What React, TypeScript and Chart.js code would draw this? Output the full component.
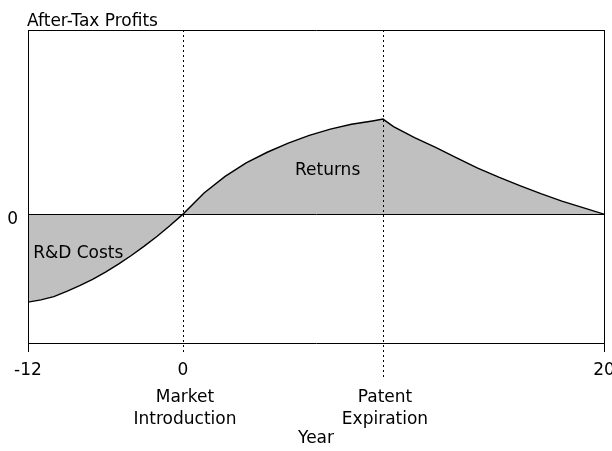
import React, { useEffect, useRef } from 'react';
import { Chart, LinearScale, registerables } from 'chart.js';

// ---- data ----
const YEARS = [-12, -11, -10, -9, -8, -7, -6, -5, -4, -3, -2, -1, 0, 1, 2, 3, 4, 5, 6, 7, 8, 9, 9.5, 10, 11, 12, 13, 14, 15, 16, 17, 18, 19, 20];
const PROFITS = [-47.8, -46.6, -44.8, -42, -38.9, -35.4, -31.5, -27.2, -22.5, -17.4, -12, -6.2, 0, 11.5, 20.5, 27.8, 33.6, 38.6, 42.8, 46.2, 48.8, 50.6, 51.6, 47.5, 41.5, 36.2, 30.6, 25, 20.1, 15.5, 11.1, 7.1, 3.5, 0];
const X_TICKS = [-12, 0, 20];
const Y_TICKS = [0];
const MARKET_INTRO_YEAR = 0;
const PATENT_EXPIRY_YEAR = 9.5;
const Y_MIN = -70;
const Y_MAX = 100;
const AXIS_BREAKS = [-12, 0, 20];
const AXIS_BREAK_FRACTIONS = [0, 0.2691, 1];
const REGION_LABELS = [
  { text: 'R&D Costs', year: -11.6, value: -23.8 },
  { text: 'Returns', year: 5.32, value: 21.2 },
];
const EVENT_LABELS = [
  { lines: ['Market', 'Introduction'], year: MARKET_INTRO_YEAR },
  { lines: ['Patent', 'Expiration'], year: PATENT_EXPIRY_YEAR },
];

const FAMILY = "'DejaVu Sans', sans-serif";
const FONT_SIZE = 17;

function yearToDecimal(v: number): number {
  const n = AXIS_BREAKS.length;
  for (let i = 0; i < n - 1; i++) {
    const a = AXIS_BREAKS[i];
    const b = AXIS_BREAKS[i + 1];
    if (v <= b || i === n - 2) {
      const fa = AXIS_BREAK_FRACTIONS[i];
      const fb = AXIS_BREAK_FRACTIONS[i + 1];
      return fa + ((v - a) / (b - a)) * (fb - fa);
    }
  }
  return 0;
}
function decimalToYear(d: number): number {
  const n = AXIS_BREAKS.length;
  for (let i = 0; i < n - 1; i++) {
    const fa = AXIS_BREAK_FRACTIONS[i];
    const fb = AXIS_BREAK_FRACTIONS[i + 1];
    if (d <= fb || i === n - 2) {
      const a = AXIS_BREAKS[i];
      const b = AXIS_BREAKS[i + 1];
      return a + ((d - fa) / (fb - fa)) * (b - a);
    }
  }
  return 0;
}

class PiecewiseScale extends LinearScale {
  static id = 'piecewise';
  getPixelForValue(value: any) {
    if (value === null || value === undefined || isNaN(value)) return NaN;
    return (this as any).getPixelForDecimal(yearToDecimal(+value));
  }
  getValueForPixel(pixel: number) {
    return decimalToYear((this as any).getDecimalForPixel(pixel));
  }
}

Chart.register(...registerables, PiecewiseScale as any);

const decorPlugin = {
  id: 'decor',
  afterDraw(chart: any) {
    const { ctx, chartArea } = chart;
    const xs = chart.scales.x;
    const ys = chart.scales.y;
    ctx.save();
    // top & right frame
    ctx.strokeStyle = '#000';
    ctx.lineWidth = 1;
    ctx.beginPath();
    ctx.moveTo(chartArea.left, Math.round(chartArea.top) + 0.5);
    ctx.lineTo(chartArea.right + 1, Math.round(chartArea.top) + 0.5);
    ctx.moveTo(Math.round(chartArea.right) + 0.5, chartArea.top);
    ctx.lineTo(Math.round(chartArea.right) + 0.5, chartArea.bottom);
    ctx.stroke();

    // dotted event lines
    ctx.setLineDash([2, 3]);
    const ends = [chartArea.bottom + 10, chartArea.bottom + 35];
    EVENT_LABELS.forEach((ev, i) => {
      const px = Math.round(xs.getPixelForValue(ev.year)) + 0.5;
      ctx.beginPath();
      ctx.moveTo(px, chartArea.top);
      ctx.lineTo(px, ends[i]);
      ctx.stroke();
    });
    ctx.setLineDash([]);

    // texts
    ctx.fillStyle = '#000';
    ctx.font = `${FONT_SIZE}px ${FAMILY}`;
    ctx.textBaseline = 'alphabetic';
    ctx.textAlign = 'left';
    ctx.fillText('After-Tax Profits', chartArea.left - 1, chartArea.top - 4);
    REGION_LABELS.forEach((l) => {
      ctx.fillText(l.text, xs.getPixelForValue(l.year), ys.getPixelForValue(l.value));
    });
    ctx.textAlign = 'center';
    EVENT_LABELS.forEach((ev) => {
      const px = xs.getPixelForValue(ev.year) + 2;
      ev.lines.forEach((line, j) => {
        ctx.fillText(line, px, chartArea.bottom + 59 + j * 22);
      });
    });
    ctx.restore();
  },
};

export default function App() {
  const ref = useRef<HTMLCanvasElement | null>(null);
  useEffect(() => {
    if (!ref.current) return;
    const chart = new Chart(ref.current, {
      type: 'line',
      data: {
        datasets: [
          {
            data: YEARS.map((y, i) => ({ x: y, y: PROFITS[i] })),
            borderColor: '#000',
            borderWidth: 1.4,
            backgroundColor: '#c0c0c0',
            fill: 'origin',
            pointRadius: 0,
            tension: 0,
          },
        ],
      },
      options: {
        animation: false,
        responsive: false,
        events: [],
        layout: { padding: { left: 0, right: 8, top: 30, bottom: 0 } },
        plugins: { legend: { display: false }, tooltip: { enabled: false } },
        scales: {
          x: {
            type: 'piecewise' as any,
            min: -12,
            max: 20,
            afterBuildTicks: (s: any) => {
              s.ticks = X_TICKS.map((v) => ({ value: v }));
            },
            afterFit: (s: any) => {
              s.height = 108;
              s.paddingLeft = 0;
              s.paddingRight = 0;
            },
            ticks: {
              autoSkip: false,
              maxRotation: 0,
              padding: 8,
              color: '#000',
              font: { family: FAMILY, size: FONT_SIZE },
              callback: (v: any) => String(v),
            },
            grid: {
              display: true,
              drawOnChartArea: false,
              drawTicks: true,
              tickLength: 9,
              color: (c: any) => (c.tick && (c.tick.value === -12 || c.tick.value === 20) ? '#000' : 'rgba(0,0,0,0)'),
            },
            border: { display: true, color: '#000', width: 1 },
            title: {
              display: true,
              text: 'Year',
              color: '#000',
              font: { family: FAMILY, size: FONT_SIZE },
              padding: { top: 0, bottom: 2 },
            },
          },
          y: {
            type: 'linear',
            min: Y_MIN,
            max: Y_MAX,
            afterBuildTicks: (s: any) => {
              s.ticks = Y_TICKS.map((v) => ({ value: v }));
            },
            afterFit: (s: any) => {
              s.width = 28;
              s.paddingTop = 0;
              s.paddingBottom = 0;
            },
            ticks: {
              padding: 10,
              labelOffset: 5,
              color: '#000',
              font: { family: FAMILY, size: FONT_SIZE },
              callback: (v: any) => String(v),
            },
            grid: {
              display: true,
              drawOnChartArea: true,
              drawTicks: false,
              color: '#000',
              z: 1,
            },
            border: { display: true, color: '#000', width: 1, z: 1 },
          },
        },
      },
      plugins: [decorPlugin],
    } as any);
    return () => chart.destroy();
  }, []);
  return (
    <div style={{ position: 'fixed', left: 0, top: 0, width: 612, height: 451, background: '#fff' }}>
      <canvas ref={ref} width={612} height={451} />
    </div>
  );
}
